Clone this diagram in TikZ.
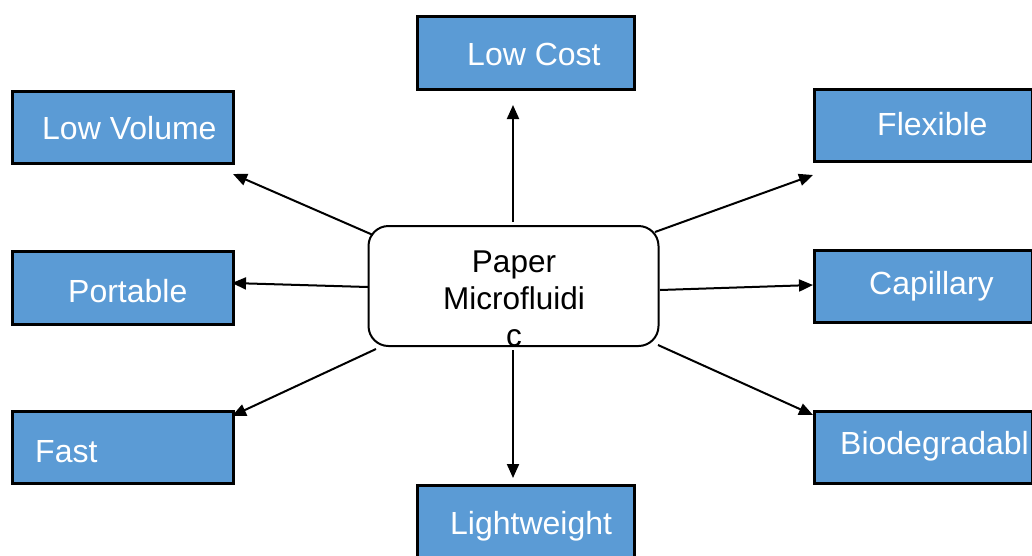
\documentclass[tikz,border=0pt]{standalone}
\usepackage{fontspec}
\setmainfont{Liberation Sans}
\usetikzlibrary{arrows.meta}
\definecolor{boxblue}{HTML}{5B9BD5}
\begin{document}
\begin{tikzpicture}[x=1pt,y=-1pt,
  featbox/.style={draw=black,line width=2.5pt,fill=boxblue,inner sep=0pt,anchor=north west},
  feattext/.style={text=white,font=\fontsize{32}{37}\selectfont,inner sep=0pt,anchor=base west},
  hub/.style={draw=black,line width=2pt,rounded corners=20pt,fill=white,minimum width=290pt,minimum height=120pt,inner sep=0pt},
  hubtext/.style={text=black,font=\fontsize{31.5}{37}\selectfont,inner sep=0pt,align=center},
  arr/.style={line width=2pt,-{Triangle[length=14pt,width=12pt]}}]
\useasboundingbox (0,0) rectangle (1032,555);
% feature boxes
\node[featbox,minimum width=217pt,minimum height=73pt] (lowcost) at (416,15) {};
\node[featbox,minimum width=221pt,minimum height=72pt] (lowvol) at (11,90) {};
\node[featbox,minimum width=218pt,minimum height=72pt] (flex) at (813,88) {};
\node[featbox,minimum width=221pt,minimum height=73pt] (port) at (11,250) {};
\node[featbox,minimum width=218pt,minimum height=72pt] (cap) at (813,249) {};
\node[featbox,minimum width=221pt,minimum height=72pt] (fast) at (11,410) {};
\node[featbox,minimum width=218pt,minimum height=72pt] (bio) at (813,410) {};
\node[featbox,minimum width=217pt,minimum height=73pt] (light) at (416,484) {};
% texts
\node[feattext] (lowcostT) at (467,65) {Low Cost};
\node[feattext] (lowvolT) at (42,139) {Low Volume};
\node[feattext] (flexT) at (877,135) {Flexible};
\node[feattext] (portT) at (68,302) {Portable};
\node[feattext] (capT) at (869,294) {Capillary};
\node[feattext] (fastT) at (35,462) {Fast};
\node[feattext] (bioT) at (840,454) {Biodegradabl};
\node[feattext] (lightT) at (450,534) {Lightweight};
% hub
\node[hub] (hub) at (513.5,286) {};
\node[hubtext] (hubT) at (514,299) {Paper\\Microfluidi\\c};
% connector end points
\coordinate (eUp) at (513,105);
\coordinate (sUp) at (513,222);
\coordinate (eDown) at (513,478);
\coordinate (sDown) at (513,350);
\coordinate (eLV) at (233,174);
\coordinate (sLV) at (373,235);
\coordinate (eFX) at (813,175);
\coordinate (sFX) at (655,232);
\coordinate (ePT) at (232,283);
\coordinate (sPT) at (368,287);
\coordinate (eCP) at (813,285);
\coordinate (sCP) at (660,290);
\coordinate (eFA) at (232,416);
\coordinate (sFA) at (376,349);
\coordinate (eBI) at (813,415);
\coordinate (sBI) at (658,345);
% connectors
\draw[arr] (sUp) -- (eUp);
\draw[arr] (sDown) -- (eDown);
\draw[arr] (sLV) -- (eLV);
\draw[arr] (sFX) -- (eFX);
\draw[arr] (sPT) -- (ePT);
\draw[arr] (sCP) -- (eCP);
\draw[arr] (sFA) -- (eFA);
\draw[arr] (sBI) -- (eBI);
\end{tikzpicture}
\end{document}
